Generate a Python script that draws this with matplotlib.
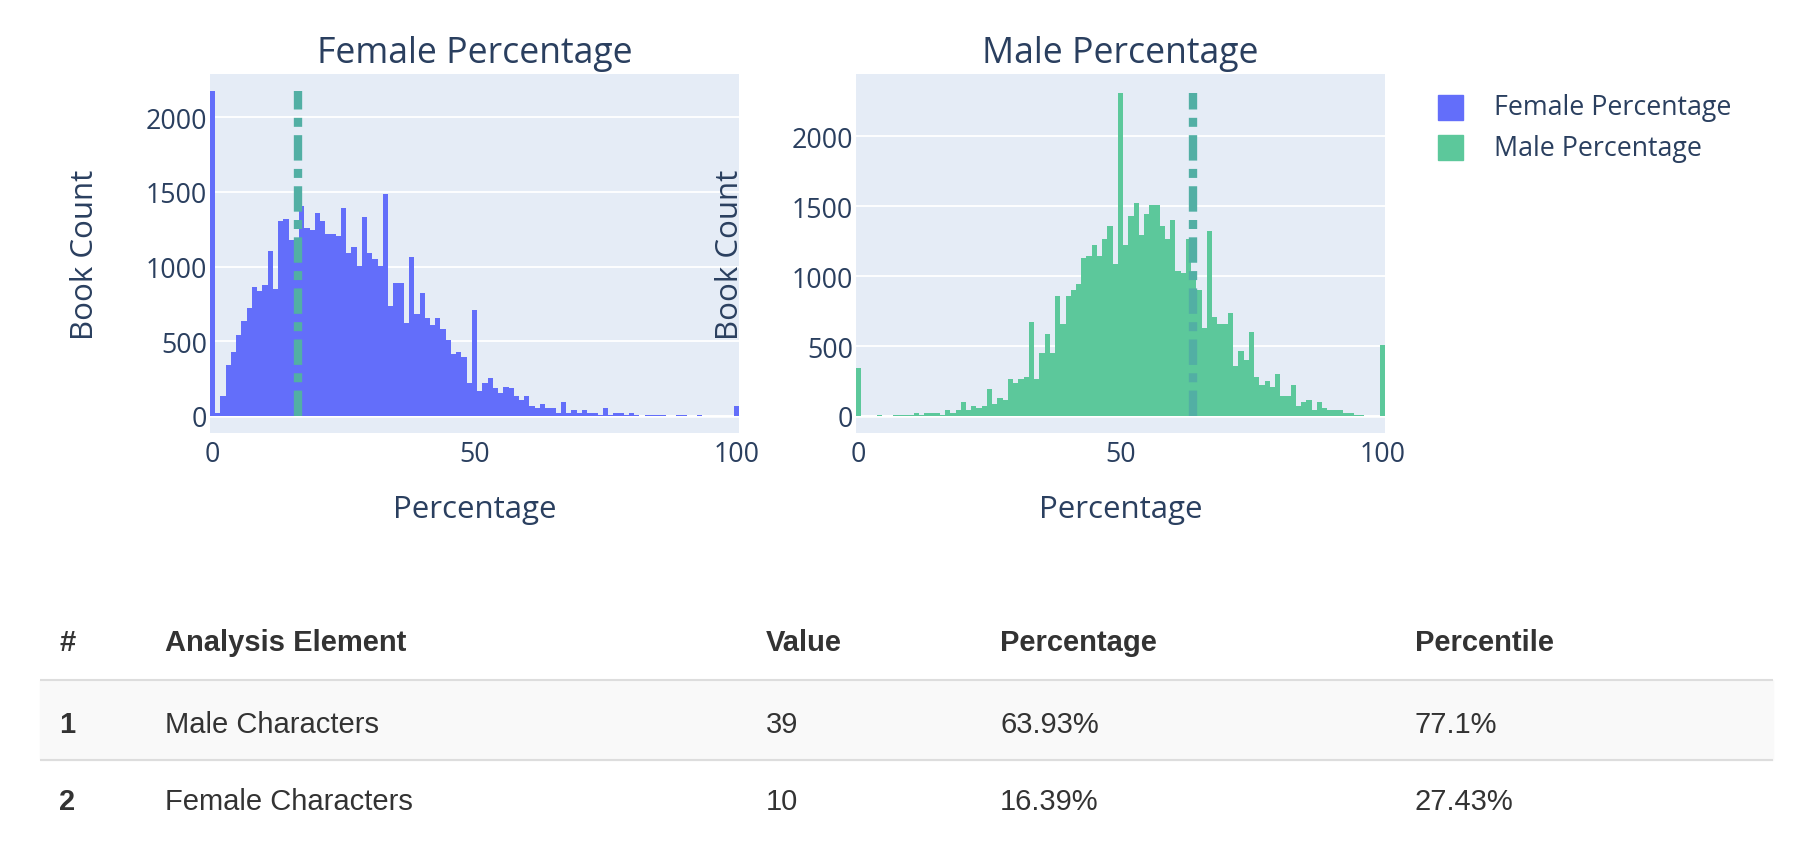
import numpy as np
import matplotlib.pyplot as plt
from matplotlib.patches import Rectangle

plt.rcParams['font.family'] = ['Open Sans', 'DejaVu Sans']

# number of books per 1 % bin, bin centres 0..100
bin_centres = list(range(0, 101))
female_counts = [
    2175, 22, 137, 339, 426, 540, 634, 722, 863, 838,
    877, 1105, 850, 1307, 1320, 1179, 1179, 1408, 1260, 1247,
    1361, 1307, 1220, 1220, 1206, 1394, 1092, 1132, 1004, 1334,
    1092, 1051, 1004, 1489, 735, 890, 890, 621, 1065, 682,
    823, 655, 608, 655, 581, 507, 413, 426, 392, 224,
    708, 170, 224, 251, 184, 157, 197, 184, 137, 110,
    137, 70, 56, 83, 56, 56, 22, 96, 22, 43,
    22, 43, 22, 22, 9, 56, 9, 22, 22, 9,
    22, 9, 0, 9, 9, 9, 9, 0, 0, 9,
    9, 0, 0, 9, 0, 0, 0, 0, 0, 0,
    70,
]
male_counts = [
    346, 0, 0, 0, 10, 0, 0, 10, 10, 10,
    10, 24, 10, 24, 24, 24, 10, 45, 24, 45,
    103, 45, 74, 60, 74, 195, 88, 131, 117, 267,
    238, 267, 281, 675, 267, 453, 589, 453, 861, 660,
    861, 904, 946, 1132, 1147, 1225, 1147, 1268, 1361, 1089,
    2312, 1225, 1433, 1526, 1297, 1447, 1511, 1511, 1361, 1268,
    1404, 1039, 1025, 1268, 1030, 903, 632, 1326, 710, 660,
    660, 739, 360, 467, 403, 603, 281, 224, 253, 210,
    303, 145, 145, 224, 74, 103, 117, 45, 103, 60,
    45, 45, 45, 24, 24, 10, 10, 0, 0, 0,
    510,
]
female_book = 16.39
male_book = 63.93

# table below the charts
table_header = ["#", "Analysis Element", "Value", "Percentage", "Percentile"]
table_rows = [
    ["1", "Male Characters", "39", "63.93%", "77.1%"],
    ["2", "Female Characters", "10", "16.39%", "27.43%"],
]

TEXT = '#2a3f5f'
BG = '#e5ecf6'
FEMALE = '#636efa'
MALE = '#5cc89b'
MARKER = '#52afa4'

W, H = 1814, 854


def histogram(ax, counts, value, color, title, ylim):
    ax.set_facecolor(BG)
    ax.bar(bin_centres, counts, width=1.0, color=color, linewidth=0, zorder=2)
    ax.plot([value, value], [0, max(counts)], color=MARKER, lw=6,
            linestyle=(0, (3.05, 1.0, 1.08, 1.0)), dash_capstyle='butt',
            zorder=3)
    ax.set_xlim(-0.5, 100.5)
    ax.set_ylim(*ylim)
    ax.set_xticks([0, 50, 100])
    ax.set_yticks([0, 500, 1000, 1500, 2000])
    ax.grid(axis='y', color='white', lw=1.3, zorder=0)
    ax.axhline(0, color='white', lw=1.8, zorder=1)
    ax.set_axisbelow(True)
    for s in ax.spines.values():
        s.set_visible(False)
    ax.tick_params(axis='both', length=0, labelsize=19.3, labelcolor=TEXT)
    ax.tick_params(axis='x', pad=5)
    ax.tick_params(axis='y', pad=2)
    ax.set_title(title, fontsize=25.7, color=TEXT, pad=9)
    ax.set_xlabel("Percentage", fontsize=22.5, color=TEXT)
    ax.xaxis.label.set_va('baseline')
    ax.xaxis.set_label_coords(0.5, -84 / 359)
    ax.set_ylabel("Book Count", fontsize=22.5, color=TEXT)


def draw():
    fig = plt.figure(figsize=(W / 100, H / 100), dpi=100)

    ax_f = fig.add_axes([210 / W, 1 - 434 / H, 529 / W, 359 / H])
    ax_m = fig.add_axes([856 / W, 1 - 434 / H, 529 / W, 359 / H])
    histogram(ax_f, female_counts, female_book, FEMALE, "Female Percentage", (-114, 2290))
    histogram(ax_m, male_counts, male_book, MALE, "Male Percentage", (-122, 2446))
    # label coords give the right edge of the rotated text
    ax_f.yaxis.set_label_coords((100 - 210) / 529, 0.5)
    ax_m.yaxis.set_label_coords((745 - 856) / 529, 0.5)

    # legend
    for i, (name, color) in enumerate([("Female Percentage", FEMALE), ("Male Percentage", MALE)]):
        yc = 108 + 40.5 * i
        fig.patches.append(Rectangle((1438 / W, 1 - (yc + 12.5) / H), 25 / W, 25 / H,
                                     transform=fig.transFigure, color=color))
        fig.text(1494 / W, 1 - (yc + 7.5) / H, name, fontsize=19.3, color=TEXT, va='baseline')

    # table
    ax_t = fig.add_axes([0, 0, 1, 264 / H])
    ax_t.set_xlim(0, W)
    ax_t.set_ylim(H, 590)
    ax_t.axis('off')
    ax_t.add_patch(Rectangle((40, 681), 1733, 80, color='#f9f9f9', zorder=0))
    ax_t.hlines([681, 761], 40, 1773, color='#dddddd', lw=1.5, zorder=1)
    col_x = [59, 165, 766, 1000, 1415]
    for x, t in zip(col_x, table_header):
        ax_t.text(x, 651, t, fontsize=21, fontweight='bold', color='#333333',
                  family='Liberation Sans', va='baseline')
    for row, y in zip(table_rows, [733, 810]):
        for j, (x, t) in enumerate(zip(col_x, row)):
            ax_t.text(x, y, t, fontsize=21, color='#333333', family='Liberation Sans',
                      fontweight='bold' if j == 0 else 'normal', va='baseline')

    fig.savefig("out.png", dpi=100)


if __name__ == "__main__":
    draw()
